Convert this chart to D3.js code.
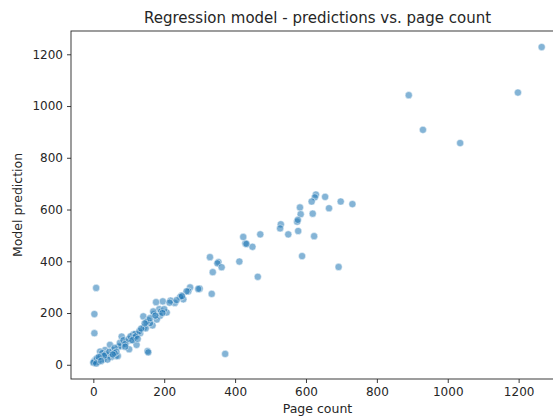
<!DOCTYPE html>
<html>
<head>
<meta charset="utf-8">
<script src="https://cdn.jsdelivr.net/npm/d3@7"></script>
<style>
  body { margin: 0; background: #fff; }
  svg { font-family: "DejaVu Sans", sans-serif; }
  .tick text { font-size: 12px; fill: #262626; }
</style>
</head>
<body>
<svg id="chart" width="553" height="416"></svg>
<script>
// page count vs model prediction
const pageCount = [
  1265, 890, 930, 1035, 1198,
  731, 698, 665, 654, 628, 625, 616, 619, 623, 692, 589, 583, 585, 575, 577,
  578, 550, 529, 527, 471, 449, 429, 432, 423, 412, 464, 372, 353, 350, 362,
  337, 329, 334,
  300, 296, 273, 268, 263, 249, 254, 245, 230, 218, 196, 177, 186, 191, 207,
  171, 188, 169, 141, 155, 179, 167, 143, 148, 160, 132, 125, 113, 118, 108,
  122, 153, 155, 101, 94, 80, 80, 71, 63, 69, 47, 56, 42, 33, 19, 28, 14, 5,
  2, 0, 8, 3, 3,
  10, 20, 25, 35, 45, 50, 60, 65, 75, 85, 90, 100, 105, 115, 120, 130, 135,
  150, 60, 40, 30, 15, 8, 22, 55, 90, 110, 125, 145, 160, 175, 200, 195, 215,
  235, 250
];
const prediction = [
  1228, 1042, 908, 857, 1052,
  621, 631, 605, 649, 658, 647, 631, 584, 497, 378, 420, 608, 582, 553, 560,
  517, 504, 543, 527, 504, 456, 469, 467, 494, 399, 340, 42, 397, 392, 377,
  358, 416, 274,
  294, 293, 299, 284, 284, 267, 253, 262, 239, 248, 245, 242, 215, 206, 202,
  196, 189, 206, 187, 172, 175, 152, 145, 141, 161, 122, 118, 118, 119, 96,
  77, 53, 48, 60, 89, 109, 73, 70, 34, 34, 77, 57, 38, 57, 51, 21, 12, 18,
  12, 8, 297, 196, 122,
  25, 30, 45, 40, 50, 30, 65, 50, 85, 95, 80, 100, 110, 105, 110, 130, 140,
  165, 45, 20, 35, 30, 5, 15, 40, 70, 95, 100, 160, 180, 190, 215, 200, 240,
  250, 265
];
const xTicks = [0, 200, 400, 600, 800, 1000, 1200];
const yTicks = [0, 200, 400, 600, 800, 1000, 1200];

const svg = d3.select("#chart");
const plotLeft = 71, plotRight = 564, plotTop = 31, plotBottom = 379;

const x = d3.scaleLinear().domain([-63, 1328]).range([plotLeft, plotRight]);
const y = d3.scaleLinear().domain([-55, 1290]).range([plotBottom, plotTop]);

const points = pageCount.map((v, i) => ({ x: v, y: prediction[i] }));

svg.append("defs").append("clipPath").attr("id", "plot-clip")
  .append("rect")
  .attr("x", plotLeft).attr("y", plotTop)
  .attr("width", plotRight - plotLeft).attr("height", plotBottom - plotTop);

svg.append("g")
  .attr("clip-path", "url(#plot-clip)")
  .selectAll("circle")
  .data(points)
  .enter()
  .append("circle")
  .attr("cx", d => x(d.x))
  .attr("cy", d => y(d.y))
  .attr("r", 3.6)
  .attr("fill", "#1f77b4")
  .attr("fill-opacity", 0.55)
  .attr("stroke", "#fff")
  .attr("stroke-opacity", 0.6)
  .attr("stroke-width", 0.8);

// spines
svg.append("rect")
  .attr("x", plotLeft).attr("y", plotTop)
  .attr("width", plotRight - plotLeft).attr("height", plotBottom - plotTop)
  .attr("fill", "none").attr("stroke", "#262626").attr("stroke-width", 0.9);

const fmt = d3.format("d");
const xAxis = svg.append("g")
  .attr("transform", `translate(0,${plotBottom})`)
  .call(d3.axisBottom(x).tickValues(xTicks).tickFormat(fmt).tickSize(4).tickPadding(4));
const yAxis = svg.append("g")
  .attr("transform", `translate(${plotLeft},0)`)
  .call(d3.axisLeft(y).tickValues(yTicks).tickFormat(fmt).tickSize(4).tickPadding(4));

[xAxis, yAxis].forEach(a => {
  a.attr("font-family", null).attr("font-size", null);
  a.select(".domain").remove();
  a.selectAll(".tick line").attr("stroke", "#262626").attr("stroke-width", 0.9);
});

svg.append("text")
  .attr("x", (plotLeft + plotRight) / 2).attr("y", 23)
  .attr("text-anchor", "middle")
  .attr("font-size", 15)
  .attr("fill", "#262626")
  .text("Regression model - predictions vs. page count");

svg.append("text")
  .attr("x", (plotLeft + plotRight) / 2).attr("y", 413)
  .attr("text-anchor", "middle")
  .attr("font-size", 12.5)
  .attr("fill", "#262626")
  .text("Page count");

svg.append("text")
  .attr("transform", `translate(22,${(plotTop + plotBottom) / 2}) rotate(-90)`)
  .attr("text-anchor", "middle")
  .attr("font-size", 12.5)
  .attr("fill", "#262626")
  .text("Model prediction");
</script>
</body>
</html>
